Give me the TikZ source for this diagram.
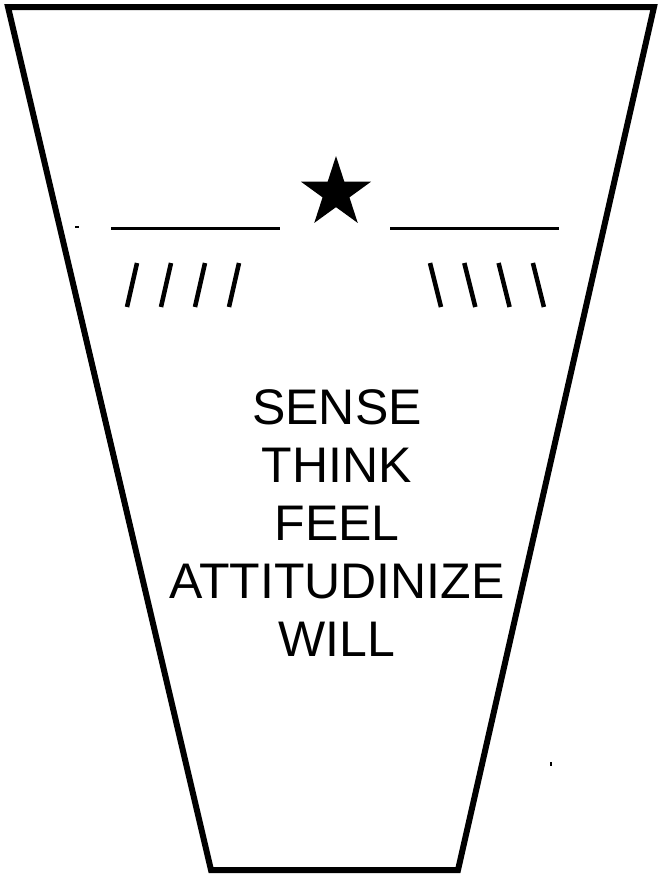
\documentclass[tikz,border=0pt]{standalone}
\usepackage{fontspec}
\setmainfont{Liberation Sans}
\usetikzlibrary{shapes.geometric}

\begin{document}
\begin{tikzpicture}[x=0.75pt, y=-0.75pt,
        rim/.style={line width=4.5pt, line join=miter},
        rule/.style={line width=2.25pt},
        hatch/.style={line width=3.4pt}]
            \useasboundingbox (0,0) rectangle (658,876);
            \draw[rim] (8,7) -- (654,7) -- (458,870) -- (211,870) -- cycle;
            \node[star, star points=5, star point ratio=2.618, fill, draw=none, inner sep=0pt, minimum size=55.5pt] (star) at (336,193) {};
            \draw[rule] (111,228) -- (280,228);
            \draw[rule] (390,228) -- (559,228);
            \foreach \k in {0,...,3} {
                \draw[hatch] (127+34*\k,307) -- (137+34*\k,263);
                \draw[hatch] (430+34.3*\k,263) -- (441+34.3*\k,307);
            }
            \draw[line width=1pt] (75,227) -- (79,227);
            \draw[line width=1.5pt] (551,762) -- (551,766);
            \node[anchor=north, inner sep=0pt, align=center, font=\fontsize{37.5pt}{43.5pt}\selectfont] (words) at (337,389) {SENSE\\THINK\\FEEL\\ATTITUDINIZE\\WILL};
        \end{tikzpicture}
\end{document}
